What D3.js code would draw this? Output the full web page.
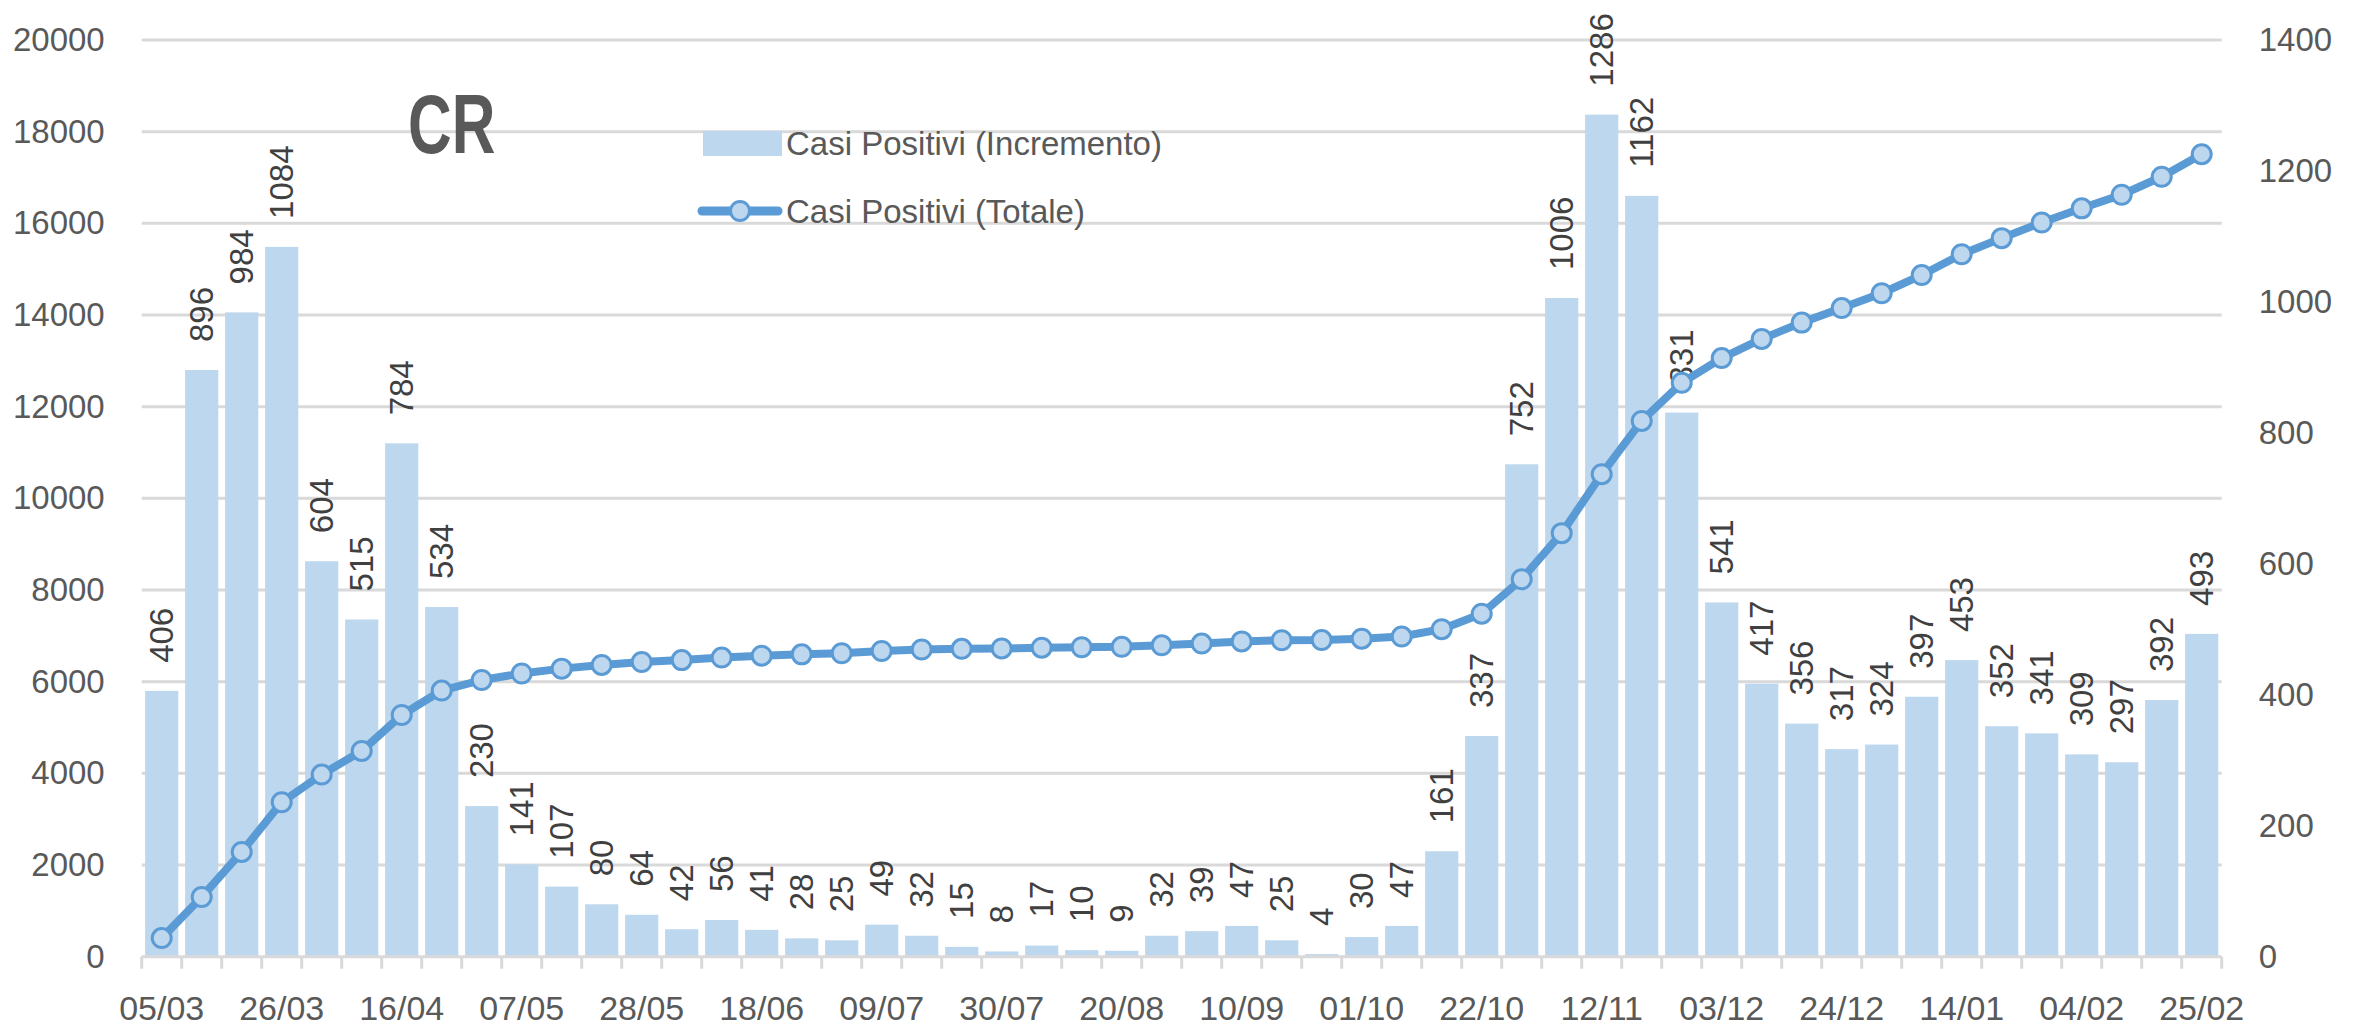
<!DOCTYPE html>
<html>
<head>
<meta charset="utf-8">
<script src="https://d3js.org/d3.v7.min.js"></script>
<style>
  body { margin: 0; background: #fff; }
  text { font-family: "Liberation Sans", Arial, sans-serif; }
</style>
</head>
<body>
<script>
// weekly dates (category axis)
var dates = ["05/03", "12/03", "19/03", "26/03", "02/04", "09/04", "16/04", "23/04", "30/04",
  "07/05", "14/05", "21/05", "28/05", "04/06", "11/06", "18/06", "25/06", "02/07", "09/07",
  "16/07", "23/07", "30/07", "06/08", "13/08", "20/08", "27/08", "03/09", "10/09", "17/09",
  "24/09", "01/10", "08/10", "15/10", "22/10", "29/10", "05/11", "12/11", "19/11", "26/11",
  "03/12", "10/12", "17/12", "24/12", "31/12", "07/01", "14/01", "21/01", "28/01", "04/02",
  "11/02", "18/02", "25/02"];

// casi positivi (incremento) - bars, right axis
var incremento = [406, 896, 984, 1084, 604, 515, 784, 534, 230, 141, 107, 80, 64, 42, 56, 41,
  28, 25, 49, 32, 15, 8, 17, 10, 9, 32, 39, 47, 25, 4, 30, 47, 161, 337, 752, 1006, 1286, 1162,
  831, 541, 417, 356, 317, 324, 397, 453, 352, 341, 309, 297, 392, 493];

// casi positivi (totale) - line, left axis
var totale = [406, 1302, 2286, 3370, 3974, 4489, 5273, 5807, 6037, 6178, 6285, 6365, 6429, 6471,
  6527, 6568, 6596, 6621, 6670, 6702, 6717, 6725, 6742, 6752, 6761, 6793, 6832, 6879, 6904, 6908,
  6938, 6985, 7146, 7483, 8235, 9241, 10527, 11689, 12520, 13061, 13478, 13834, 14151, 14475,
  14872, 15325, 15677, 16018, 16327, 16624, 17016, 17509];

// tick labels
var xTickLabels = ["05/03", "26/03", "16/04", "07/05", "28/05", "18/06", "09/07", "30/07", "20/08",
  "10/09", "01/10", "22/10", "12/11", "03/12", "24/12", "14/01", "04/02", "25/02"];
var leftTicks = [0, 2000, 4000, 6000, 8000, 10000, 12000, 14000, 16000, 18000, 20000];
var rightTicks = [0, 200, 400, 600, 800, 1000, 1200, 1400];

var seriesNames = ["Casi Positivi (Incremento)", "Casi Positivi (Totale)"];

//chart dimensions
var svgWidth = 2361;
var svgHeight = 1030;

var plot = { left: 141.7, right: 2221.7, top: 40, bottom: 956.7 };

var barColor = "#BDD7EE";
var lineColor = "#5B9BD5";
var gridColor = "#d9d9d9";
var axisText = "#595959";

var svg = d3.select("body")
  .append("svg")
  .attr("width", svgWidth)
  .attr("height", svgHeight);

// scales
var x = d3.scaleBand()
  .domain(dates)
  .range([plot.left, plot.right])
  .paddingInner(0.17)
  .paddingOuter(0.085);

var yLeft = d3.scaleLinear()
  .domain([0, 20000])
  .range([plot.bottom, plot.top]);

var yRight = d3.scaleLinear()
  .domain([0, 1400])
  .range([plot.bottom, plot.top]);

// gridlines
svg.append("g")
  .selectAll("line")
  .data(leftTicks.slice(1))
  .enter()
  .append("line")
  .attr("x1", plot.left)
  .attr("x2", plot.right)
  .attr("y1", d => yLeft(d))
  .attr("y2", d => yLeft(d))
  .attr("stroke", gridColor)
  .attr("stroke-width", 3);

// left axis
var leftAxis = svg.append("g")
  .attr("transform", `translate(${plot.left},0)`)
  .call(d3.axisLeft(yLeft).tickValues(leftTicks).tickSize(0).tickPadding(37).tickFormat(d3.format("d")));
leftAxis.select(".domain").remove();
leftAxis.selectAll("text")
  .attr("fill", axisText)
  .style("font-size", "33px");

// right axis
var rightAxis = svg.append("g")
  .attr("transform", `translate(${plot.right},0)`)
  .call(d3.axisRight(yRight).tickValues(rightTicks).tickSize(0).tickPadding(37).tickFormat(d3.format("d")));
rightAxis.select(".domain").remove();
rightAxis.selectAll("text")
  .attr("fill", axisText)
  .style("font-size", "33px");

// bars
svg.append("g")
  .selectAll("rect")
  .data(incremento)
  .enter()
  .append("rect")
  .attr("x", (d, i) => x(dates[i]))
  .attr("y", d => yRight(d))
  .attr("width", x.bandwidth())
  .attr("height", d => plot.bottom - yRight(d))
  .attr("fill", barColor);

// bar labels, rotated
svg.append("g")
  .selectAll("text")
  .data(incremento)
  .enter()
  .append("text")
  .attr("transform", (d, i) => `translate(${x(dates[i]) + x.bandwidth() / 2},${yRight(d) - 28}) rotate(-90)`)
  .attr("dy", "0.35em")
  .attr("text-anchor", "start")
  .attr("fill", "#404040")
  .style("font-size", "33px")
  .text(d => d);

// x axis line + boundary ticks
var xAxisG = svg.append("g");
xAxisG.append("line")
  .attr("x1", plot.left)
  .attr("x2", plot.right)
  .attr("y1", plot.bottom)
  .attr("y2", plot.bottom)
  .attr("stroke", gridColor)
  .attr("stroke-width", 3);
xAxisG.selectAll(".bt")
  .data(d3.range(dates.length + 1))
  .enter()
  .append("line")
  .attr("class", "bt")
  .attr("x1", i => plot.left + i * x.step())
  .attr("x2", i => plot.left + i * x.step())
  .attr("y1", plot.bottom)
  .attr("y2", plot.bottom + 12)
  .attr("stroke", gridColor)
  .attr("stroke-width", 3);

// x labels
var bottomAxis = svg.append("g")
  .attr("transform", `translate(0,${plot.bottom})`)
  .call(d3.axisBottom(x).tickValues(xTickLabels).tickSize(0).tickPadding(39));
bottomAxis.select(".domain").remove();
bottomAxis.selectAll("text")
  .attr("fill", axisText)
  .style("font-size", "34px");

// totale line
var line = d3.line()
  .x((d, i) => x(dates[i]) + x.bandwidth() / 2)
  .y(d => yLeft(d));

svg.append("path")
  .datum(totale)
  .attr("d", line)
  .attr("fill", "none")
  .attr("stroke", lineColor)
  .attr("stroke-width", 8)
  .attr("stroke-linejoin", "round");

svg.append("g")
  .selectAll("circle")
  .data(totale)
  .enter()
  .append("circle")
  .attr("cx", (d, i) => x(dates[i]) + x.bandwidth() / 2)
  .attr("cy", d => yLeft(d))
  .attr("r", 9.5)
  .attr("fill", barColor)
  .attr("stroke", lineColor)
  .attr("stroke-width", 3);

// title (squeezed to look like a condensed bold face)
svg.append("text")
  .attr("transform", "translate(408,153) scale(0.72,1)")
  .attr("fill", "#595959")
  .style("font-weight", "bold")
  .style("font-size", "84px")
  .text("CR");

// legend
var legend = svg.append("g");
legend.append("rect")
  .attr("x", 703)
  .attr("y", 131)
  .attr("width", 79)
  .attr("height", 25)
  .attr("fill", barColor);
legend.append("text")
  .attr("x", 786)
  .attr("y", 143)
  .attr("dy", "0.35em")
  .attr("fill", axisText)
  .style("font-size", "33px")
  .text(seriesNames[0]);

legend.append("line")
  .attr("x1", 702)
  .attr("x2", 778)
  .attr("y1", 211)
  .attr("y2", 211)
  .attr("stroke", lineColor)
  .attr("stroke-width", 9)
  .attr("stroke-linecap", "round");
legend.append("circle")
  .attr("cx", 740)
  .attr("cy", 211)
  .attr("r", 9.5)
  .attr("fill", barColor)
  .attr("stroke", lineColor)
  .attr("stroke-width", 3);
legend.append("text")
  .attr("x", 786)
  .attr("y", 211)
  .attr("dy", "0.35em")
  .attr("fill", axisText)
  .style("font-size", "33px")
  .text(seriesNames[1]);
</script>
</body>
</html>
